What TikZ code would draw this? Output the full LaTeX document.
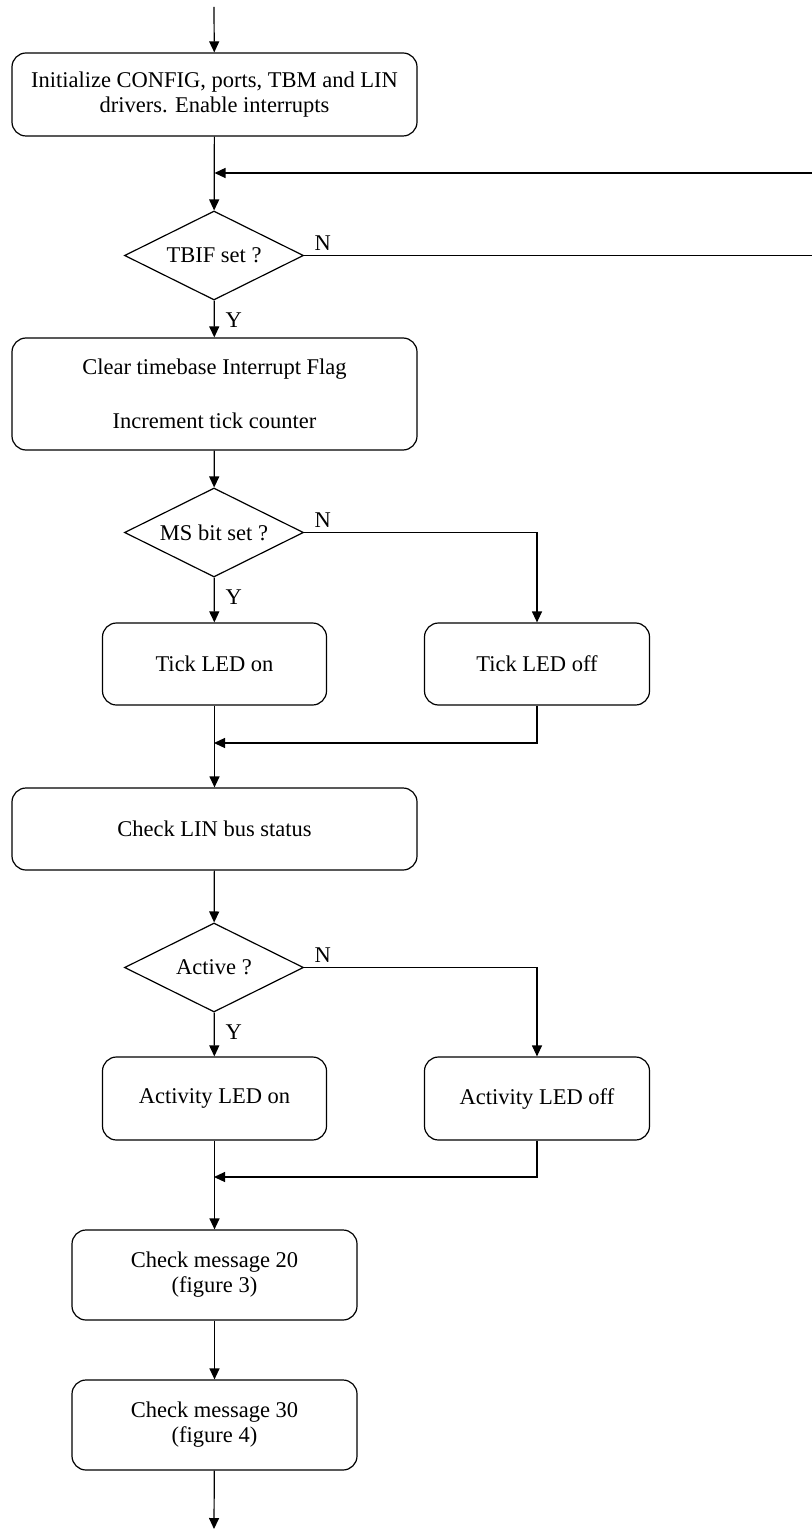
\documentclass[tikz,border=0pt]{standalone}
\usepackage{fontspec}
\setmainfont{Liberation Serif}
\usetikzlibrary{shapes.geometric,arrows.meta}
\begin{document}
\begin{tikzpicture}[x=0.5pt,y=-0.5pt,line width=0.6pt,
    font=\fontsize{11.25}{12.5}\selectfont,
    box/.style={draw,rounded corners=7pt,align=center,inner sep=0pt},
    test/.style={draw,diamond,aspect=2,inner sep=0pt,minimum width=89.5pt,minimum height=44.5pt},
    lbl/.style={inner sep=0pt},
    flow/.style={-{Triangle[length=5.5pt,width=5pt]}}]
    \useasboundingbox (0,0) rectangle (812,1529);

    \coordinate (Start) at (214,7);
    \coordinate (End) at (214,1529);
    \coordinate (LoopIn) at (830,173);
    \coordinate (NoOut) at (823,255.5);
    \coordinate (Merge1) at (214,743);
    \coordinate (Merge2) at (214,1177);

    \node[box,minimum width=202.5pt,minimum height=41.5pt] (Init) at (214.5,94.5)
      {Initialize CONFIG, ports, TBM and LIN\\drivers. Enable interrupts};
    \node[test] (TBIF) at (214,255.5) {TBIF set ?};
    \node[box,minimum width=202.5pt,minimum height=56pt] (Clear) at (214.5,394)
      {Clear timebase Interrupt Flag\\[14.5pt]Increment tick counter};
    \node[test] (MS) at (214,532.5) {MS bit set ?};
    \node[box,minimum width=112pt,minimum height=41pt] (TickOn) at (214.5,664) {Tick LED on};
    \node[box,minimum width=112.5pt,minimum height=41pt] (TickOff) at (537,664) {Tick LED off};
    \node[box,minimum width=202.5pt,minimum height=41pt] (LIN) at (214.5,829) {Check LIN bus status};
    \node[test] (Active) at (214,967.5) {Active ?};
    \node[box,minimum width=112pt,minimum height=41.5pt] (ActOn) at (214.5,1098.5) {Activity LED on};
    \node[box,minimum width=112.5pt,minimum height=41.5pt] (ActOff) at (537,1098.5) {Activity LED off};
    \node[box,minimum width=142.5pt,minimum height=45pt] (Msg20) at (214.5,1275)
      {Check message 20\\(figure 3)};
    \node[box,minimum width=142.5pt,minimum height=45pt] (Msg30) at (214.5,1425)
      {Check message 30\\(figure 4)};

    \node[lbl,anchor=south west] (TBIFn) at ([xshift=5pt,yshift=2pt]TBIF.east) {N};
    \node[lbl,anchor=north west] (TBIFy) at ([xshift=5.5pt,yshift=-6pt]TBIF.south) {Y};
    \node[lbl,anchor=south west] (MSn) at ([xshift=5pt,yshift=2pt]MS.east) {N};
    \node[lbl,anchor=north west] (MSy) at ([xshift=5.5pt,yshift=-6pt]MS.south) {Y};
    \node[lbl,anchor=south west] (Activen) at ([xshift=5pt,yshift=2pt]Active.east) {N};
    \node[lbl,anchor=north west] (Activey) at ([xshift=5.5pt,yshift=-6pt]Active.south) {Y};

    \draw[flow] (Start) -- (Init);
    \draw[flow] (Init) -- (TBIF);
    \draw[flow] (LoopIn) -- (LoopIn -| Init.south);
    \draw[flow] (TBIF.east) -- (NoOut);
    \draw[flow] (TBIF) -- (Clear);
    \draw[flow] (Clear) -- (MS);
    \draw[flow] (MS) -- (TickOn);
    \draw[flow] (MS.east) -| (TickOff.north);
    \draw[flow] (TickOn) -- (LIN);
    \draw[flow] (TickOff.south) |- (Merge1);
    \draw[flow] (LIN) -- (Active);
    \draw[flow] (Active) -- (ActOn);
    \draw[flow] (Active.east) -| (ActOff.north);
    \draw[flow] (ActOn) -- (Msg20);
    \draw[flow] (ActOff.south) |- (Merge2);
    \draw[flow] (Msg20) -- (Msg30);
    \draw[flow] (Msg30) -- (End);
\end{tikzpicture}
\end{document}
